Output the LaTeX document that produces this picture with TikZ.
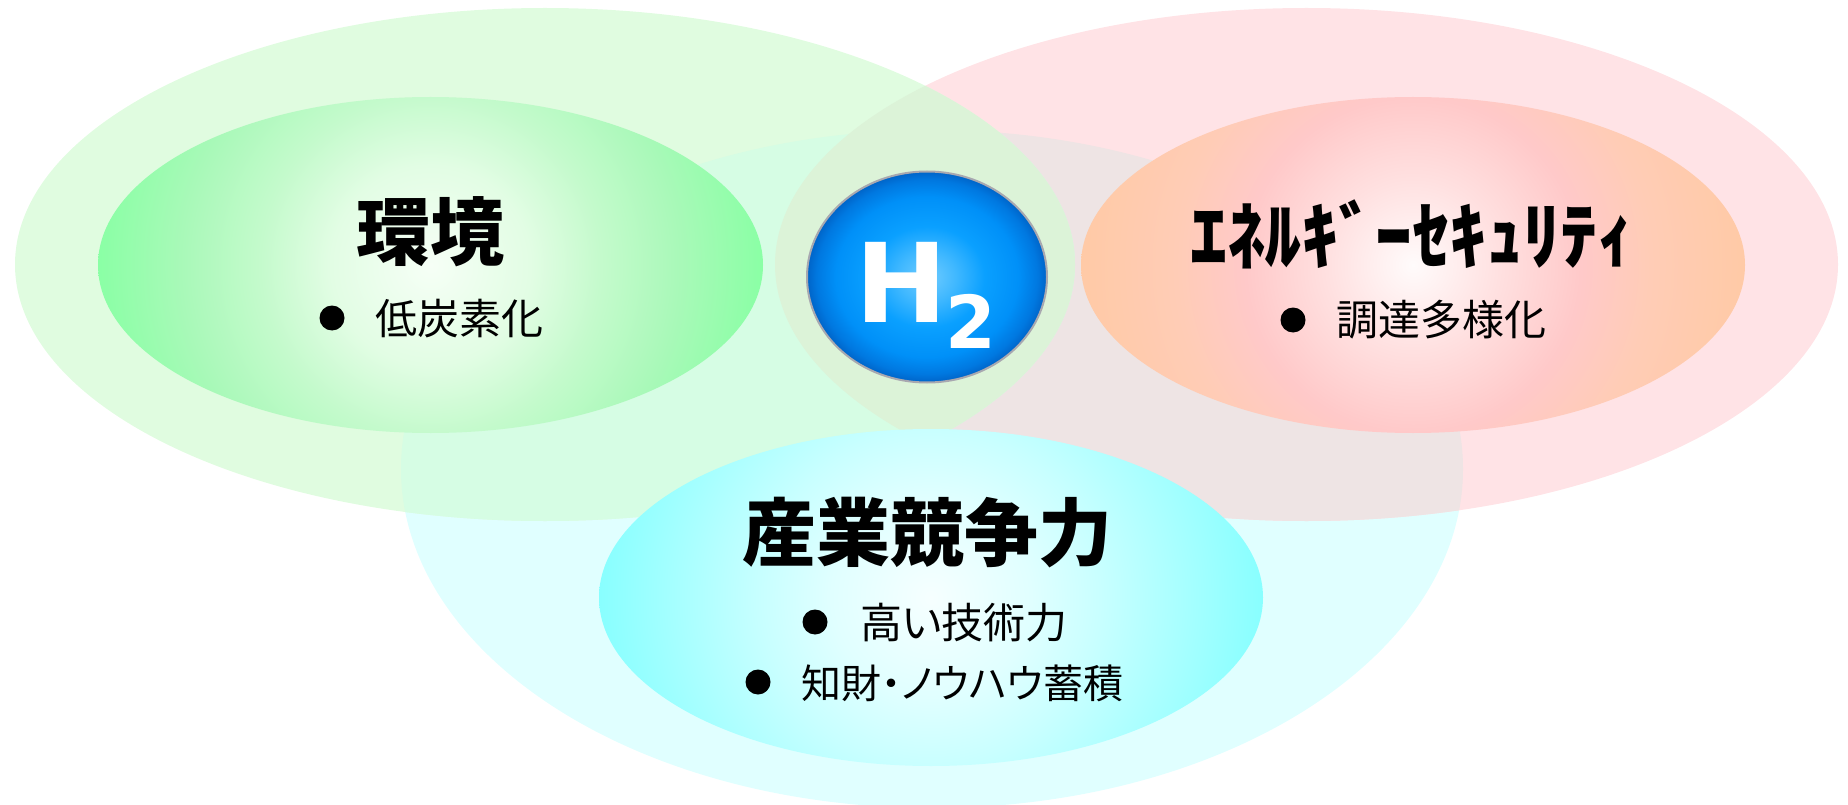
\documentclass[tikz,border=0pt]{standalone}
\usepackage{fontspec}
\newfontfamily\jp{Noto Sans CJK JP}
\newfontfamily\jpp{Noto Sans CJK JP}[RawFeature=+palt]
\newfontfamily\hfont{DejaVu Sans}
% outer regions
\definecolor{cyanout}{HTML}{E0FFFF}
\definecolor{pinkout}{HTML}{FFE3E6}
\definecolor{greenout}{HTML}{E0FCE0}
\definecolor{pinkcyan}{HTML}{EEE4E4}
\definecolor{greencyan}{HTML}{D6FDE4}
\definecolor{greenpink}{HTML}{DCF3D8}
% inner gradients
\definecolor{gra}{HTML}{F6FFF6}\definecolor{grb}{HTML}{E2FDE4}\definecolor{grc}{HTML}{C4FACC}\definecolor{grd}{HTML}{A8F9B8}\definecolor{gre}{HTML}{8AFFA5}
\definecolor{pka}{HTML}{FFFBFB}\definecolor{pkb}{HTML}{FFE0E0}\definecolor{pkc}{HTML}{FFC9C9}\definecolor{pkd}{HTML}{FFCCB6}\definecolor{pke}{HTML}{FFCAA6}
\definecolor{cya}{HTML}{F6FFFF}\definecolor{cyb}{HTML}{E0FFFF}\definecolor{cyc}{HTML}{C8FFFF}\definecolor{cyd}{HTML}{A8FFFF}\definecolor{cye}{HTML}{88FFFF}
\definecolor{bla}{HTML}{70CCFF}\definecolor{blb}{HTML}{40B8FF}\definecolor{blc}{HTML}{0AA0FF}\definecolor{bld}{HTML}{0090F8}\definecolor{ble}{HTML}{0078E0}\definecolor{blf}{HTML}{0064C8}
\definecolor{ballrim}{HTML}{A8A8B0}
\pgfdeclareradialshading{greenrad}{\pgfpoint{0bp}{0bp}}{color(0bp)=(gra); color(7.5bp)=(grb); color(12.8bp)=(grc); color(18.8bp)=(grd); color(25bp)=(gre); color(50bp)=(gre)}
\pgfdeclareradialshading{pinkrad}{\pgfpoint{0bp}{0bp}}{color(0bp)=(pka); color(6.5bp)=(pkb); color(12.6bp)=(pkc); color(17.8bp)=(pkd); color(25bp)=(pke); color(50bp)=(pke)}
\pgfdeclareradialshading{cyanrad}{\pgfpoint{0bp}{0bp}}{color(0bp)=(cya); color(7.5bp)=(cyb); color(12.7bp)=(cyc); color(18.8bp)=(cyd); color(25bp)=(cye); color(50bp)=(cye)}
\pgfdeclareradialshading{ballrad}{\pgfpoint{0bp}{0bp}}{color(0bp)=(bla); color(6bp)=(blb); color(12bp)=(blc); color(19bp)=(bld); color(23bp)=(ble); color(25bp)=(blf); color(50bp)=(blf)}
\tikzset{
  titletext/.style={anchor=base, inner sep=0pt, font=\jp\bfseries\fontsize{74}{80}\selectfont},
  itemtext/.style={anchor=base west, inner sep=0pt, font=\jpp\fontsize{42}{48}\selectfont},
  bulletdot/.style={circle, fill=black, inner sep=0pt, minimum size=25pt},
}
\begin{document}
\begin{tikzpicture}[x=1pt,y=-1pt]
\useasboundingbox (0,0) rectangle (1848,805);
% outer ellipses
\fill[cyanout] (932,469) ellipse [x radius=531pt, y radius=339pt];
\fill[pinkout] (1306.5,264.5) ellipse [x radius=531.5pt, y radius=256.5pt];
\fill[greenout] (545,264.5) ellipse [x radius=530pt, y radius=256.5pt];
\begin{scope}
  \clip (1306.5,264.5) ellipse [x radius=531.5pt, y radius=256.5pt];
  \fill[pinkcyan] (932,469) ellipse [x radius=531pt, y radius=339pt];
\end{scope}
\begin{scope}
  \clip (545,264.5) ellipse [x radius=530pt, y radius=256.5pt];
  \fill[greencyan] (932,469) ellipse [x radius=531pt, y radius=339pt];
  \fill[greenpink] (1306.5,264.5) ellipse [x radius=531.5pt, y radius=256.5pt];
\end{scope}
% inner ellipses
\begin{scope}
  \clip (430.5,265) ellipse [x radius=332.5pt, y radius=168pt];
  \shade[shading=greenrad] (430.5,265) circle [radius=333pt];
\end{scope}
\begin{scope}
  \clip (1413,265) ellipse [x radius=332pt, y radius=168pt];
  \shade[shading=pinkrad] (1413,265) circle [radius=333pt];
\end{scope}
\begin{scope}
  \clip (931,597.5) ellipse [x radius=332pt, y radius=168.5pt];
  \shade[shading=cyanrad] (931,597.5) circle [radius=333pt];
\end{scope}
% H2 ball
\shade[shading=ballrad, draw=ballrim, line width=2pt] (927,277) ellipse [x radius=120pt, y radius=105.5pt];
\node[inner sep=0pt, text=white, font=\hfont\bfseries\fontsize{110}{120}\selectfont] (hH) at (902,282) {H};
\node[inner sep=0pt, text=white, font=\hfont\bfseries\fontsize{73}{80}\selectfont] (hTwo) at (971,321.5) {2};
% texts
\node[titletext] (envT) at (430,259) {環境};
\node[bulletdot] (envB) at (332,318) {};
\node[itemtext] (envI) at (375,334) {低炭素化};

\node[titletext] (secT) at (1412,264) {ｴﾈﾙｷﾞｰｾｷｭﾘﾃｨ};
\node[bulletdot] (secB) at (1293,320) {};
\node[itemtext] (secI) at (1336,335) {調達多様化};

\node[titletext] (indT) at (927,560) {産業競争力};
\node[bulletdot] (indB1) at (815,622) {};
\node[itemtext] (indI1) at (860,638) {高い技術力};
\node[bulletdot] (indB2) at (758,682) {};
\node[itemtext, font=\jpp\fontsize{40}{46}\selectfont] (indI2) at (801,698) {知財・ノウハウ蓄積};
\end{tikzpicture}
\end{document}
